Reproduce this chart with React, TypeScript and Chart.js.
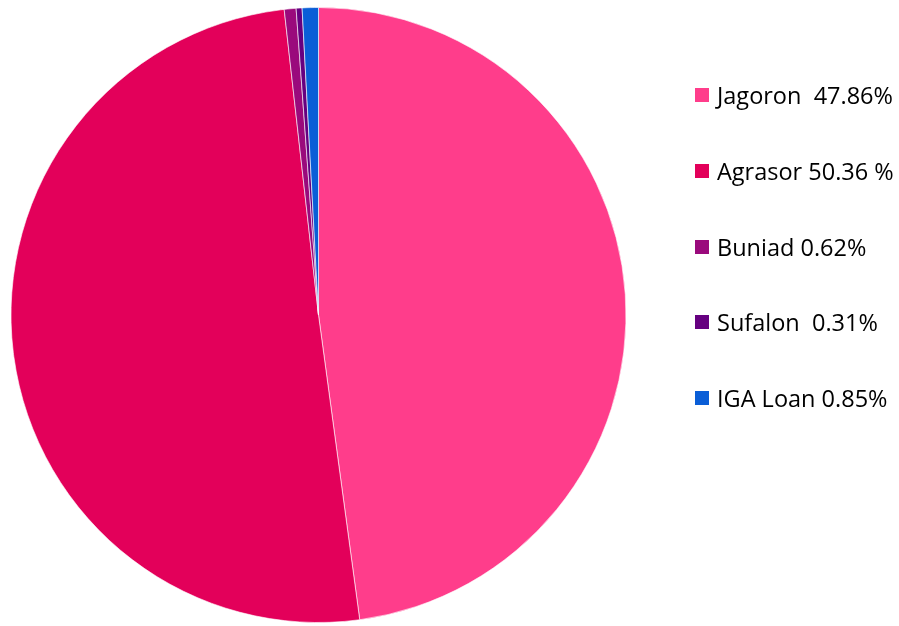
import React, { useEffect, useRef } from "react";
import { Chart, registerables } from "chart.js";

Chart.register(...registerables);

const labels = ["Jagoron", "Agrasor", "Buniad", "Sufalon", "IGA Loan"];
const values = [47.86, 50.36, 0.62, 0.31, 0.85];
const legendTexts = ["Jagoron  47.86%", "Agrasor 50.36 %", "Buniad 0.62%", "Sufalon  0.31%", "IGA Loan 0.85%"];
const colors = ["#FF3D8B", "#E3005A", "#9A0A7C", "#660080", "#0A5ED7"];

export default function App() {
  const ref = useRef<HTMLCanvasElement | null>(null);
  useEffect(() => {
    if (!ref.current) return;
    const chart = new Chart(ref.current, {
      type: "pie",
      data: {
        labels,
        datasets: [
          {
            data: values,
            backgroundColor: colors,
            borderColor: "rgba(255,255,255,0.6)",
            borderWidth: 1,
          },
        ],
      },
      options: {
        animation: false,
        responsive: false,
        maintainAspectRatio: false,
        layout: { padding: { left: 10, top: 7, right: 272, bottom: 3 } },
        plugins: { legend: { display: false }, tooltip: { enabled: false } },
      },
    });
    return () => chart.destroy();
  }, []);
  return (
    <div style={{ position: "fixed", left: 0, top: 0, width: 899, height: 626, background: "#fff" }}>
      <canvas ref={ref} width={899} height={626} style={{ position: "absolute", left: 0, top: 0 }} />
      {legendTexts.map((t, i) => (
        <div
          key={t}
          style={{
            position: "absolute",
            left: 695,
            top: 95 + i * 75.8 - 15,
            height: 30,
            display: "flex",
            alignItems: "center",
            fontFamily: "'Open Sans', Lato, sans-serif",
            fontSize: 23.5,
            color: "#000",
            whiteSpace: "pre",
          }}
        >
          <span style={{ display: "inline-block", width: 14, height: 14, background: colors[i], marginRight: 8 }} />
          <span>{t}</span>
        </div>
      ))}
    </div>
  );
}
